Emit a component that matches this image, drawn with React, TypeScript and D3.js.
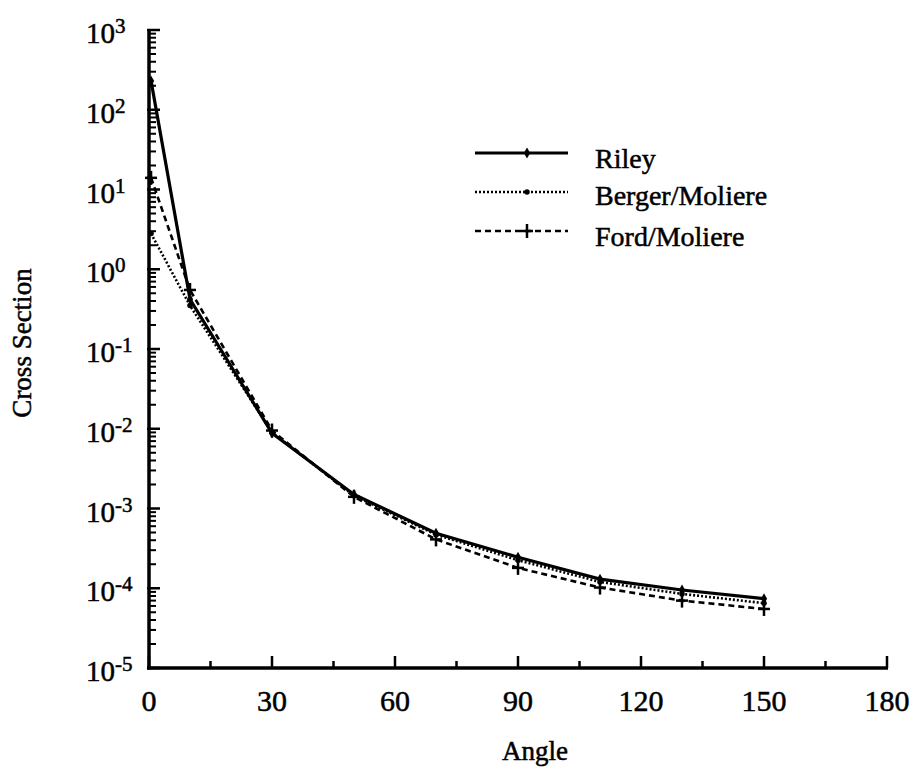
import React from "react";
import * as d3 from "d3";

const rileyAngles = [0.5, 10, 30, 50, 70, 90, 110, 130, 150];
const rileyValues = [230, 0.42, 0.0088, 1.5e-3, 4.9e-4, 2.45e-4, 1.3e-4, 9.5e-5, 7.4e-5];
const bergerAngles = [0.5, 10, 30, 50, 70, 90, 110, 130, 150];
const bergerValues = [2.8, 0.35, 0.009, 1.45e-3, 4.7e-4, 2.25e-4, 1.2e-4, 8.5e-5, 6.5e-5];
const fordAngles = [0.5, 10, 30, 50, 70, 90, 110, 130, 150];
const fordValues = [14, 0.55, 0.0095, 1.4e-3, 4.1e-4, 1.8e-4, 1.02e-4, 7.0e-5, 5.5e-5];

const xTicks = [0, 30, 60, 90, 120, 150, 180];
const xMinorTicks = [15, 45, 75, 105, 135, 165];
const yExponents = [3, 2, 1, 0, -1, -2, -3, -4, -5];
const seriesNames = ["Riley", "Berger/Moliere", "Ford/Moliere"];

const FONT = "'Liberation Serif', 'Times New Roman', serif";

export default function App() {
  const x = d3.scaleLinear().domain([0, 180]).range([149, 887]);
  const y = d3.scaleLog().domain([1e-5, 1e3]).range([668, 30]);

  const series = [
    { name: seriesNames[0], a: rileyAngles, v: rileyValues, dash: undefined, marker: "diamond" },
    { name: seriesNames[1], a: bergerAngles, v: bergerValues, dash: "2,2", marker: "circle" },
    { name: seriesNames[2], a: fordAngles, v: fordValues, dash: "6,4", marker: "plus" },
  ];

  const line = d3
    .line<[number, number]>()
    .x((d) => x(d[0]))
    .y((d) => y(d[1]));

  const minor: number[] = [];
  for (let e = -5; e < 3; e++) {
    for (let m = 2; m <= 9; m++) minor.push(m * Math.pow(10, e));
  }

  const diamond = d3.symbol().type(d3.symbolDiamond).size(34)() as string;
  const circle = d3.symbol().type(d3.symbolCircle).size(24)() as string;

  const marker = (kind: string, cx: number, cy: number, key: string) => {
    if (kind === "plus") {
      return (
        <g key={key} transform={`translate(${cx},${cy})`} stroke="#000" strokeWidth={2.5}>
          <line x1={-6} x2={6} y1={0} y2={0} />
          <line x1={0} x2={0} y1={-7} y2={7} />
        </g>
      );
    }
    return (
      <path
        key={key}
        d={kind === "diamond" ? diamond : circle}
        transform={`translate(${cx},${cy})`}
        fill="#000"
      />
    );
  };

  const legendY = [153, 192, 231];
  const legendBase = [168, 205, 246];
  const textStroke = { stroke: "#000", strokeWidth: 0.5 };

  return (
    <svg
      width={913}
      height={770}
      style={{ position: "absolute", left: 0, top: 0, background: "#fff" }}
      fontFamily={FONT}
    >
      <rect width={913} height={770} fill="#fff" />
      {/* axes */}
      <line x1={149} x2={149} y1={y(1e3)} y2={y(1e-5) + 1.5} stroke="#000" strokeWidth={3.5} />
      <line x1={147} x2={x(180) + 1} y1={668} y2={668} stroke="#000" strokeWidth={3.5} />
      {/* y ticks */}
      {yExponents.map((e) => (
        <line key={"ym" + e} x1={147} x2={160} y1={y(Math.pow(10, e))} y2={y(Math.pow(10, e))} stroke="#000" strokeWidth={2.5} />
      ))}
      {minor.map((m, i) => (
        <line key={"yn" + i} x1={149} x2={156} y1={y(m)} y2={y(m)} stroke="#000" strokeWidth={2} />
      ))}
      {/* x ticks */}
      {xTicks.map((t) => (
        <line key={"xt" + t} x1={x(t)} x2={x(t)} y1={668} y2={656} stroke="#000" strokeWidth={2.5} />
      ))}
      {xMinorTicks.map((t) => (
        <line key={"xn" + t} x1={x(t)} x2={x(t)} y1={668} y2={661} stroke="#000" strokeWidth={2.5} />
      ))}
      {/* x tick labels */}
      {xTicks.map((t) => (
        <text key={"xl" + t} x={x(t)} y={711} textAnchor="middle" fontSize={30} fill="#000" {...textStroke}>
          {t}
        </text>
      ))}
      {/* y tick labels */}
      {yExponents.map((e) => (
        <text key={"yl" + e} x={86} y={y(Math.pow(10, e)) + 13} fontSize={29} fill="#000" {...textStroke}>
          10
          <tspan dy={-10} fontSize={21}>{e}</tspan>
        </text>
      ))}
      {/* axis titles */}
      <text x={535} y={760} textAnchor="middle" fontSize={27} fill="#000" {...textStroke}>
        Angle
      </text>
      <text
        transform={`translate(31,343) rotate(-90)`}
        textAnchor="middle"
        fontSize={27}
        fill="#000"
        {...textStroke}
      >
        Cross Section
      </text>
      {/* series */}
      {series.map((s, si) => {
        const pts = s.a.map((a, i) => [a, s.v[i]] as [number, number]);
        return (
          <g key={"s" + si}>
            <path d={line(pts) as string} fill="none" stroke="#000" strokeWidth={si === 0 ? 3.2 : 2.6} strokeDasharray={s.dash} />
            {pts.map((p, i) => marker(s.marker, x(p[0]), y(p[1]), `m${si}-${i}`))}
          </g>
        );
      })}
      {/* legend */}
      {series.map((s, si) => (
        <g key={"lg" + si}>
          <line x1={475} x2={568} y1={legendY[si]} y2={legendY[si]} stroke="#000" strokeWidth={si === 0 ? 3.2 : 2.6} strokeDasharray={s.dash} />
          {marker(s.marker, 527, legendY[si], "lm" + si)}
          <text x={595} y={legendBase[si]} fontSize={28} fill="#000" {...textStroke}>
            {s.name}
          </text>
        </g>
      ))}
    </svg>
  );
}
